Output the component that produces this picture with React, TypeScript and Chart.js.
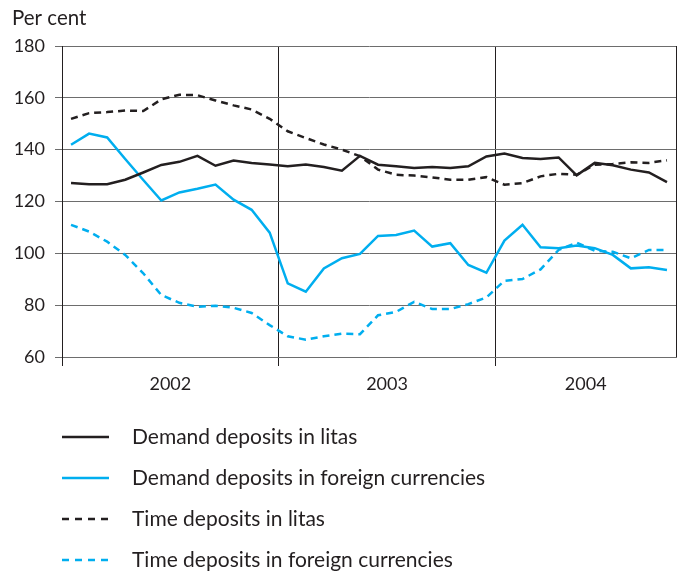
import React, { useEffect, useRef } from 'react';
import { Chart, registerables } from 'chart.js';

Chart.register(...registerables);

const years = ['2002', '2003', '2004'];
const monthsPerYear = [12, 12, 10];

const yTicks = [60, 80, 100, 120, 140, 160, 180];

const seriesNames = [
  'Demand deposits in litas',
  'Demand deposits in foreign currencies',
  'Time deposits in litas',
  'Time deposits in foreign currencies',
];

const demandLitas = [127.1, 126.7, 126.7, 128.4, 131.2, 134.1, 135.3, 137.6, 133.8, 135.8, 134.9, 134.3, 133.6, 134.3, 133.3, 131.9, 137.6, 134.2, 133.6, 132.9, 133.3, 132.9, 133.6, 137.4, 138.5, 136.8, 136.4, 137.0, 130.1, 134.9, 134.0, 132.3, 131.2, 127.5];
const demandForeign = [141.9, 146.2, 144.7, 136.4, 128.3, 120.4, 123.5, 124.9, 126.5, 120.7, 116.8, 108.0, 88.4, 85.2, 94.2, 98.1, 99.8, 106.7, 107.1, 108.8, 102.6, 103.9, 95.5, 92.5, 104.9, 111.0, 102.3, 102.0, 103.0, 102.0, 99.4, 94.2, 94.6, 93.6];
const timeLitas = [151.9, 154.1, 154.5, 155.1, 154.9, 159.4, 161.2, 161.0, 159.0, 157.1, 155.5, 151.9, 147.1, 144.5, 142.0, 140.0, 137.5, 132.3, 130.3, 130.0, 129.3, 128.4, 128.4, 129.4, 126.5, 127.1, 129.7, 130.7, 130.3, 134.2, 134.5, 135.1, 134.9, 135.9];
const timeForeign = [111.0, 108.4, 104.5, 99.4, 92.3, 83.9, 80.9, 79.4, 79.8, 79.0, 77.0, 72.3, 68.0, 66.7, 68.0, 69.0, 68.8, 76.1, 77.4, 81.3, 78.5, 78.5, 80.4, 83.0, 89.4, 90.1, 93.8, 101.3, 104.1, 101.0, 100.6, 98.1, 101.3, 101.3];

const BLACK = '#231f20';
const BLUE = '#00aeef';
const FONT = 'Lato, "Open Sans", sans-serif';
const DASH = [7, 5];

const seriesValues = [demandLitas, demandForeign, timeLitas, timeForeign];
const seriesColors = [BLACK, BLUE, BLACK, BLUE];
const seriesDashed = [false, false, true, true];

const boundaries: number[] = [0];
monthsPerYear.forEach((m) => boundaries.push(boundaries[boundaries.length - 1] + m));
const yearCenters = monthsPerYear.map((m, i) => boundaries[i] + m / 2);
const totalMonths = boundaries[boundaries.length - 1];

const extrasPlugin = {
  id: 'extras',
  afterDraw(chart: any) {
    const ctx = chart.ctx;
    ctx.save();
    ctx.fillStyle = '#231f20';
    ctx.font = `20.5px ${FONT}`;
    ctx.textBaseline = 'alphabetic';
    ctx.textAlign = 'left';
    ctx.fillText('Per cent', 12, 25);
    ctx.font = `21px ${FONT}`;
    const rowY = [437, 478, 519, 560];
    seriesNames.forEach((name, i) => {
      const y = rowY[i];
      ctx.beginPath();
      ctx.strokeStyle = seriesColors[i];
      ctx.lineWidth = 2.5;
      ctx.setLineDash(seriesDashed[i] ? [7, 6] : []);
      ctx.moveTo(62, y);
      ctx.lineTo(109, y);
      ctx.stroke();
      ctx.setLineDash([]);
      ctx.fillStyle = '#231f20';
      ctx.fillText(name, 132, y + 7);
    });
    ctx.restore();
  },
};

export default function App() {
  const ref = useRef<HTMLCanvasElement>(null);
  useEffect(() => {
    if (!ref.current) return;
    const chart = new Chart(ref.current, {
      type: 'line',
      data: {
        datasets: seriesValues.map((vals, i) => ({
          label: seriesNames[i],
          data: vals.map((v, k) => ({ x: k + 0.5, y: v })),
          borderColor: seriesColors[i],
          backgroundColor: seriesColors[i],
          borderWidth: 2.5,
          borderDash: seriesDashed[i] ? DASH : [],
          pointRadius: 0,
          tension: 0,
          fill: false,
        })),
      },
      options: {
        animation: false,
        responsive: false,
        devicePixelRatio: 1,
        layout: { padding: { left: 0, top: 46, right: 6, bottom: 174 } },
        plugins: { legend: { display: false }, tooltip: { enabled: false }, title: { display: false } },
        scales: {
          x: {
            type: 'linear',
            min: 0,
            max: totalMonths,
            afterBuildTicks: (scale: any) => {
              const vals = [...boundaries, ...yearCenters].sort((a, b) => a - b);
              scale.ticks = vals.map((v) => ({ value: v }));
            },
            afterFit: (scale: any) => {
              scale.height = 40;
            },
            ticks: {
              autoSkip: false,
              maxRotation: 0,
              padding: 7,
              color: '#231f20',
              font: { family: FONT, size: 18 },
              callback: (value: any) => {
                const idx = yearCenters.indexOf(Number(value));
                return idx >= 0 ? years[idx] : '';
              },
            },
            grid: {
              color: (c: any) => (boundaries.includes(c.tick?.value) ? '#231f20' : 'rgba(0,0,0,0)'),
              tickColor: (c: any) =>
                boundaries.includes(c.tick?.value) && c.tick?.value !== totalMonths ? '#231f20' : 'rgba(0,0,0,0)',
              tickLength: 9,
              lineWidth: 1,
            },
            border: { color: '#6d6d6d', width: 1 },
          },
          y: {
            min: 60,
            max: 180,
            afterBuildTicks: (scale: any) => {
              scale.ticks = yTicks.map((v) => ({ value: v }));
            },
            afterFit: (scale: any) => {
              scale.width = 62;
            },
            ticks: {
              padding: 10,
              color: '#231f20',
              font: { family: FONT, size: 18 },
            },
            grid: { color: '#6d6d6d', tickColor: '#6d6d6d', tickLength: 7, lineWidth: 1 },
            border: { color: '#231f20', width: 1 },
          },
        },
      },
      plugins: [extrasPlugin],
    } as any);
    return () => chart.destroy();
  }, []);
  return (
    <div style={{ position: 'absolute', left: 0, top: 0, width: 683, height: 571 }}>
      <canvas ref={ref} width={683} height={571} style={{ display: 'block' }} />
    </div>
  );
}
